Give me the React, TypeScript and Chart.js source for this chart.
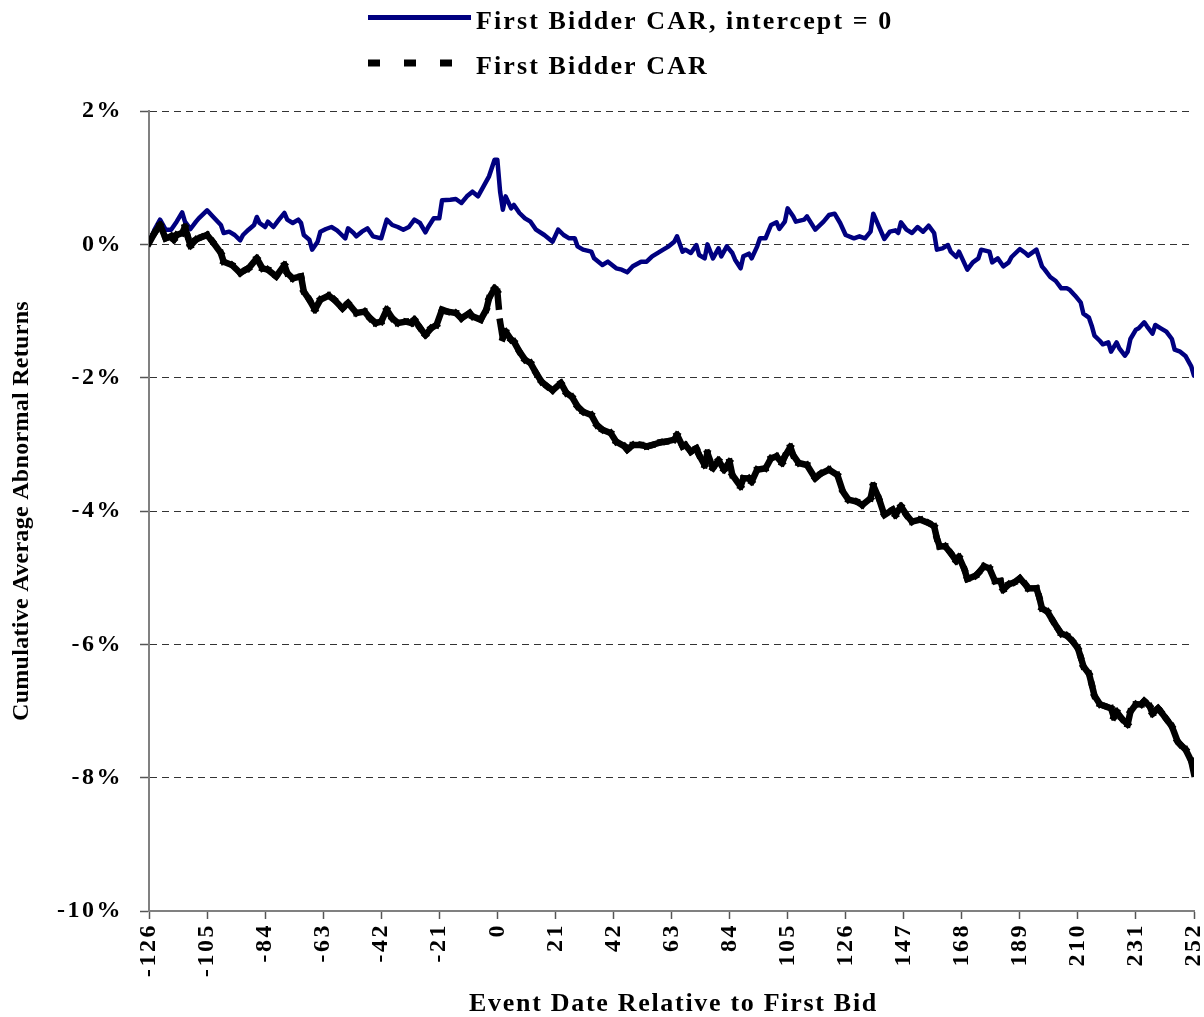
import React, { useEffect, useRef } from "react";
import { Chart, registerables } from "chart.js";

Chart.register(...registerables);

// ---- Data ----
const blueDays = [
  -126, -124, -122, -120, -118, -116, -114, -113, -111, -109, -108, -105, -103, -100, -99, -97, -95, -93, -92, -90,
  -88, -87, -86, -84, -83, -81, -79, -77, -76, -74, -72, -71, -70, -68, -67, -65, -64, -62, -60, -58,
  -57, -55, -54, -52, -51, -49, -47, -45, -42, -40, -38, -36, -34, -32, -30, -28, -26, -25, -23, -21,
  -20, -17, -15, -13, -11, -9, -7, -5, -3, -1, 0, 1, 2, 3, 5, 6, 8, 10, 12, 14,
  17, 20, 22, 24, 26, 28, 29, 31, 34, 35, 38, 40, 43, 45, 47, 49, 52, 54, 56, 60,
  62, 64, 65, 67, 68, 70, 72, 73, 75, 76, 78, 80, 81, 83, 85, 86, 88, 89, 91, 92,
  94, 95, 97, 99, 101, 102, 104, 105, 107, 108, 111, 112, 115, 118, 120, 122, 124, 126, 129, 131,
  133, 135, 136, 138, 140, 142, 144, 145, 146, 148, 150, 152, 154, 156, 158, 159, 161, 163, 164, 166,
  167, 170, 172, 174, 175, 178, 179, 181, 183, 185, 186, 189, 191, 192, 195, 197, 198, 200, 202, 204,
  206, 207, 209, 211, 212, 214, 215, 216, 218, 219, 221, 222, 224, 225, 227, 228, 229, 231, 232, 234,
  235, 237, 238, 240, 242, 244, 245, 247, 249, 251, 252,
];
const blueValues = [
  0.02, 0.22, 0.37, 0.22, 0.22, 0.34, 0.48, 0.34, 0.23, 0.34, 0.39, 0.51, 0.42, 0.29, 0.17, 0.19, 0.14, 0.06, 0.14, 0.22,
  0.29, 0.41, 0.32, 0.26, 0.34, 0.26, 0.37, 0.47, 0.37, 0.32, 0.37, 0.32, 0.14, 0.07, -0.08, 0.04, 0.19, 0.23, 0.26, 0.21,
  0.17, 0.09, 0.24, 0.17, 0.12, 0.19, 0.24, 0.12, 0.09, 0.37, 0.29, 0.26, 0.22, 0.26, 0.37, 0.32, 0.18, 0.26, 0.39, 0.39,
  0.66, 0.67, 0.68, 0.62, 0.72, 0.79, 0.72, 0.87, 1.02, 1.27, 1.27, 0.79, 0.52, 0.72, 0.54, 0.59, 0.47, 0.39, 0.34, 0.22,
  0.14, 0.04, 0.22, 0.14, 0.09, 0.09, -0.03, -0.08, -0.11, -0.21, -0.31, -0.26, -0.36, -0.38, -0.42, -0.33, -0.26, -0.26, -0.18, -0.08,
  -0.03, 0.04, 0.12, -0.11, -0.08, -0.13, -0.01, -0.16, -0.21, 0.0, -0.21, -0.06, -0.18, -0.03, -0.13, -0.23, -0.36, -0.18, -0.14, -0.21,
  -0.03, 0.09, 0.09, 0.29, 0.33, 0.23, 0.34, 0.54, 0.42, 0.34, 0.37, 0.42, 0.22, 0.34, 0.44, 0.46, 0.32, 0.14, 0.09, 0.12,
  0.09, 0.19, 0.46, 0.27, 0.08, 0.19, 0.21, 0.17, 0.33, 0.22, 0.17, 0.26, 0.19, 0.28, 0.17, -0.08, -0.06, -0.01, -0.11, -0.19,
  -0.11, -0.38, -0.27, -0.21, -0.08, -0.11, -0.27, -0.21, -0.33, -0.27, -0.19, -0.07, -0.13, -0.17, -0.08, -0.33, -0.38, -0.49, -0.55, -0.66,
  -0.66, -0.68, -0.77, -0.87, -1.04, -1.1, -1.22, -1.37, -1.45, -1.5, -1.47, -1.61, -1.47, -1.56, -1.67, -1.61, -1.42, -1.28, -1.26, -1.17,
  -1.23, -1.34, -1.21, -1.26, -1.31, -1.42, -1.58, -1.61, -1.68, -1.83, -1.97,
];

const blackDays = [
  -126, -124, -122, -120, -118, -117, -116, -114, -113, -112, -111, -109, -107, -105, -103, -100, -99, -96, -93, -91,
  -90, -87, -85, -83, -80, -77, -76, -74, -71, -70, -68, -66, -64, -61, -59, -56, -54, -51, -48, -46,
  -44, -42, -40, -38, -36, -33, -31, -30, -28, -26, -24, -22, -20, -18, -15, -13, -10, -9, -6, -4,
  -3, -1, 0, 1, 2, 3, 5, 6, 8, 10, 12, 14, 16, 18, 20, 23, 25, 27, 29, 31,
  34, 36, 38, 41, 43, 46, 47, 49, 52, 54, 56, 59, 61, 64, 65, 67, 68, 70, 72, 73,
  75, 76, 78, 80, 82, 84, 85, 88, 89, 91, 92, 94, 97, 99, 101, 103, 104, 106, 107, 109,
  112, 115, 117, 120, 123, 125, 127, 130, 132, 135, 136, 138, 140, 143, 144, 146, 148, 150, 153, 156,
  158, 159, 160, 162, 164, 166, 167, 169, 170, 173, 174, 176, 178, 180, 182, 183, 185, 187, 189, 191,
  192, 195, 196, 197, 199, 201, 203, 204, 206, 208, 210, 211, 212, 214, 215, 216, 218, 220, 222, 223,
  224, 226, 228, 229, 231, 233, 234, 236, 237, 239, 240, 242, 244, 246, 247, 249, 251, 252,
];
const blackValues = [
  0.02, 0.17, 0.29, 0.09, 0.12, 0.07, 0.14, 0.17, 0.26, 0.12, -0.02, 0.07, 0.11, 0.14, 0.04, -0.13, -0.26, -0.31, -0.43, -0.38,
  -0.36, -0.21, -0.36, -0.38, -0.48, -0.31, -0.43, -0.51, -0.48, -0.71, -0.83, -0.98, -0.83, -0.77, -0.83, -0.96, -0.88, -1.03, -1.01, -1.11,
  -1.18, -1.16, -0.98, -1.11, -1.18, -1.16, -1.18, -1.13, -1.25, -1.36, -1.26, -1.21, -0.98, -1.01, -1.03, -1.11, -1.03, -1.08, -1.13, -0.98,
  -0.81, -0.66, -0.71, -1.16, -1.41, -1.31, -1.43, -1.46, -1.61, -1.73, -1.78, -1.93, -2.06, -2.13, -2.19, -2.08, -2.23, -2.29, -2.43, -2.51,
  -2.56, -2.71, -2.78, -2.83, -2.96, -3.03, -3.08, -3.01, -3.01, -3.03, -3.01, -2.97, -2.96, -2.93, -2.86, -3.03, -3.01, -3.11, -3.06, -3.16,
  -3.31, -3.13, -3.36, -3.24, -3.38, -3.26, -3.46, -3.63, -3.51, -3.51, -3.56, -3.38, -3.36, -3.21, -3.18, -3.28, -3.18, -3.04, -3.16, -3.28,
  -3.31, -3.51, -3.44, -3.38, -3.46, -3.71, -3.83, -3.86, -3.91, -3.81, -3.62, -3.81, -4.06, -3.98, -4.06, -3.93, -4.06, -4.16, -4.13, -4.18,
  -4.23, -4.41, -4.53, -4.53, -4.63, -4.75, -4.69, -4.88, -5.02, -4.97, -4.93, -4.83, -4.86, -5.05, -5.05, -5.18, -5.1, -5.07, -5.01, -5.1,
  -5.16, -5.16, -5.29, -5.46, -5.51, -5.65, -5.78, -5.84, -5.87, -5.95, -6.06, -6.19, -6.33, -6.44, -6.6, -6.77, -6.9, -6.93, -6.96, -7.09,
  -7.01, -7.12, -7.2, -7.01, -6.9, -6.9, -6.85, -6.93, -7.04, -6.96, -7.01, -7.12, -7.23, -7.45, -7.5, -7.58, -7.75, -7.94,
];

const seriesLabels = ["First Bidder CAR, intercept = 0", "First Bidder CAR"];
const xAxisTitle = "Event Date Relative to First Bid";
const yAxisTitle = "Cumulative Average Abnormal Returns";
const xMin = -126;
const xMax = 252;
const xStep = 21;
const yMin = -10;
const yMax = 2;
const yStep = 2;

const SERIF = "'Liberation Serif', 'Times New Roman', serif";
const BLUE = "#000080";

export default function App() {
  const ref = useRef<HTMLCanvasElement | null>(null);

  useEffect(() => {
    const canvas = ref.current;
    if (!canvas) return;

    const decorPlugin = {
      id: "decor",
      beforeUpdate(chart: any) {
        chart.ctx.letterSpacing = "2.5px";
      },
      beforeDraw(chart: any) {
        chart.ctx.letterSpacing = "2.5px";
      },
      afterDraw(chart: any) {
        const ctx = chart.ctx as CanvasRenderingContext2D;
        const area = chart.chartArea;
        const blueDs = chart.data.datasets[1];
        const blackDs = chart.data.datasets[0];

        // Legend
        ctx.save();
        ctx.setLineDash([]);
        ctx.lineCap = "butt";
        ctx.strokeStyle = blueDs.borderColor;
        ctx.lineWidth = 5;
        ctx.beginPath();
        ctx.moveTo(368, 17.5);
        ctx.lineTo(471, 17.5);
        ctx.stroke();

        ctx.strokeStyle = blackDs.borderColor;
        ctx.lineWidth = 7;
        ctx.setLineDash([12, 24]);
        ctx.beginPath();
        ctx.moveTo(368, 63);
        ctx.lineTo(452, 63);
        ctx.stroke();
        ctx.setLineDash([]);

        (ctx as any).letterSpacing = "2.1px";
        ctx.fillStyle = "#000";
        ctx.font = `bold 26px ${SERIF}`;
        ctx.textAlign = "left";
        ctx.textBaseline = "alphabetic";
        ctx.fillText(blueDs.label, 476, 29);
        ctx.fillText(blackDs.label, 476, 74);
        ctx.restore();

        // X axis title
        ctx.save();
        (ctx as any).letterSpacing = "1.7px";
        ctx.fillStyle = "#000";
        ctx.font = `bold 26px ${SERIF}`;
        ctx.textAlign = "center";
        ctx.textBaseline = "alphabetic";
        ctx.fillText(xAxisTitle, (area.left + area.right) / 2 + 2, 1011);
        ctx.restore();

        // Y axis title
        ctx.save();
        (ctx as any).letterSpacing = "0.3px";
        ctx.fillStyle = "#000";
        ctx.font = `bold 24px ${SERIF}`;
        ctx.translate(22, (area.top + area.bottom) / 2);
        ctx.rotate(-Math.PI / 2);
        ctx.textAlign = "center";
        ctx.textBaseline = "middle";
        ctx.fillText(yAxisTitle, 0, 0);
        ctx.restore();
      },
    };

    const tickFont = { family: SERIF, size: 24, weight: "bold" as const };

    const chart = new Chart(canvas, {
      type: "line",
      data: {
        datasets: [
          {
            label: seriesLabels[1],
            data: blackDays.map((d, i) => ({ x: d, y: blackValues[i] })),
            borderColor: "#000000",
            borderWidth: 6.5,
            pointRadius: 0,
            tension: 0,
            fill: false,
            borderCapStyle: "square",
            borderJoinStyle: "miter",
            borderDash: [15, 21],
            segment: {
              borderDashOffset: (c: any) => (c.p0DataIndex % 2) * 0.001,
            },
          } as any,
          {
            label: seriesLabels[0],
            data: blueDays.map((d, i) => ({ x: d, y: blueValues[i] })),
            borderColor: BLUE,
            borderWidth: 4.5,
            pointRadius: 0,
            tension: 0,
            fill: false,
            borderCapStyle: "round",
            borderJoinStyle: "round",
          } as any,
        ],
      },
      options: {
        responsive: false,
        animation: false,
        events: [],
        layout: { padding: { top: 111, right: 10, bottom: 0, left: 0 } },
        plugins: {
          legend: { display: false },
          tooltip: { enabled: false },
          title: { display: false },
        },
        scales: {
          x: {
            type: "linear",
            min: xMin,
            max: xMax,
            ticks: {
              stepSize: xStep,
              autoSkip: false,
              maxRotation: 90,
              minRotation: 90,
              padding: 4,
              color: "#000",
              font: tickFont,
              callback: (v: any) => String(v),
            },
            grid: {
              display: true,
              drawOnChartArea: false,
              drawTicks: true,
              tickLength: 8,
              tickColor: "#555",
              tickWidth: 1.5,
            },
            border: { display: true, color: "#808080", width: 2 },
            afterFit: (s: any) => {
              s.height = 106;
              s.paddingLeft = 0;
              s.paddingRight = 0;
            },
          } as any,
          y: {
            type: "linear",
            min: yMin,
            max: yMax,
            ticks: {
              stepSize: yStep,
              padding: 17,
              color: "#000",
              font: tickFont,
              callback: (v: any) => `${v}%`,
            },
            grid: {
              display: true,
              color: "#333",
              lineWidth: 1,
              drawTicks: true,
              tickLength: 9,
              tickColor: "#555",
              tickWidth: 1.5,
            },
            border: { display: true, color: "#808080", width: 2, dash: [7, 5] },
            afterFit: (s: any) => {
              s.width = 149;
              s.paddingTop = 0;
              s.paddingBottom = 0;
            },
          } as any,
        },
      },
      plugins: [decorPlugin],
    });

    return () => chart.destroy();
  }, []);

  return (
    <div style={{ position: "absolute", left: 0, top: 0, width: 1204, height: 1017, background: "#fff" }}>
      <canvas ref={ref} width={1204} height={1017} style={{ display: "block" }} />
    </div>
  );
}
